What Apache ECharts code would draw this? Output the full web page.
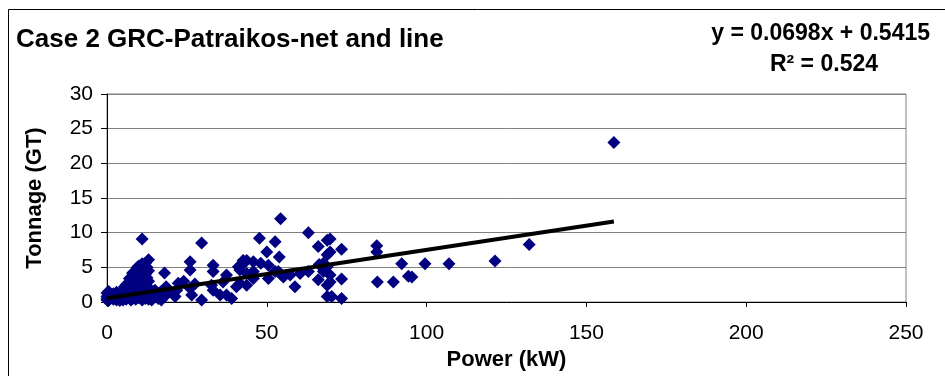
<!DOCTYPE html>
<html>
<head>
<meta charset="utf-8">
<script src="https://cdn.jsdelivr.net/npm/echarts@6/dist/echarts.min.js"></script>
<style>
html,body{margin:0;padding:0;background:#fff;}
#c{width:945px;height:376px;}
</style>
</head>
<body>
<div id="c"></div>
<script>
// Power (kW)
var powerKW = [
  0,0,0,0, 0.5,0.5, 1,1, 2,2,2, 3,3,3, 4,4,4, 5,5,5,5, 5.5,5.5,
  6,6,6,6, 7,7,7,7,7, 7.5,7.5,7.5, 8,8,8,8,8, 8.5,8.5,8.5, 9,9,9,9,9,
  9.5,9.5,9.5, 10,10,10,10,10,10, 10.5,10.5,10.5,10.5, 11,11,11,11,11,11,
  11.5,11.5,11.5,11.5, 12,12,12,12,12, 12.5,12.5,12.5,12.5, 13,13,13,13,13,
  14,14,14, 15,15, 16,16, 17,17, 18,18,18, 19,
  18.5, 16.6, 21.3, 21.8, 22.3, 24, 26, 26, 26, 26.5, 27.5, 29.6, 29.6,
  32.7, 33.2, 33.2, 33.2, 35.4, 36.3, 37.4, 37.4, 39, 40.5, 41.1, 42.6,
  41.6, 41.6, 42.1, 43.7, 43.7, 43.7, 45.8, 45.8, 45.8, 47.7, 48.1, 50, 50.5, 50.5,
  52.6, 52.6, 53.6, 53.9, 54.3, 54.6, 55.2, 57.3, 58.8, 60.4, 63, 63,
  66.1, 66.1, 66.4, 67.7, 67.7, 68.9, 68.9, 68.9, 68.9, 68.9,
  69.8, 69.8, 69.8, 69.8, 70.3, 73.4, 73.4, 73.4,
  84.4, 84.4, 84.6, 89.6, 92.2, 94.3, 95.4, 99.5, 107, 121.4, 132.1, 158.6
];
// Tonnage (GT)
var tonnageGT = [
  0.3,0.8,1.3,0.5, 1.5,0.2, 0.6,1.0, 0.4,1.2,0.8, 0.3,0.9,1.4, 0.5,1.1,0.2, 0.7,1.3,0.3,1.8, 2.2,1.0,
  0.4,1.5,2.5,0.9, 0.6,1.8,2.8,3.4,1.2, 2.2,3.0,0.3, 0.5,1.5,2.5,3.8,4.2, 1.0,2.0,3.3, 0.4,1.3,2.8,3.8,4.5,
  2.2,3.0,5.0, 0.6,1.7,2.5,3.5,4.2,5.2, 1.0,2.0,3.0,4.8, 0.3,1.4,2.6,3.8,5.5,9.1,
  0.8,2.0,3.2,4.5, 0.5,1.5,2.8,4.0,5.6, 1.1,2.3,3.5,5.0, 0.4,1.8,3.0,4.5,6.1,
  0.8,1.5,0.3, 1.7,0.9, 1.2,0.5, 1.5,0.3, 4.2,0.8,1.7, 1.3,
  2.2, 1.3, 0.8, 1.7, 2.7, 3.0, 5.8, 4.6, 2.0, 1.0, 2.6, 8.5, 0.3,
  2.4, 5.3, 4.4, 1.7, 1.0, 2.9, 3.9, 1.0, 0.5, 2.2, 5.1, 6.0,
  4.6, 2.7, 5.3, 6.0, 4.1, 2.4, 5.8, 4.4, 3.4, 9.2, 5.6, 7.2, 5.3, 3.4,
  8.7, 4.4, 4.4, 6.5, 12.0, 3.9, 3.6, 3.9, 2.2, 4.1, 10.0, 4.4,
  8.0, 3.2, 5.4, 4.4, 5.6, 8.9, 6.8, 5.1, 2.4, 0.8,
  9.1, 7.2, 3.9, 2.9, 0.8, 7.6, 3.3, 0.5,
  8.1, 7.2, 2.9, 2.9, 5.5, 3.7, 3.6, 5.5, 5.5, 5.9, 8.3, 23.0
];
// Linear trend line end points (from y = 0.0698x + 0.5415)
var trendX = [0, 158.6];
var trendY = [0.5415, 0.0698 * 158.6 + 0.5415];
var xTicks = [0, 50, 100, 150, 200, 250];
var yTicks = [0, 5, 10, 15, 20, 25, 30];

var titleText = 'Case 2 GRC-Patraikos-net and line';
var eqText = 'y = 0.0698x + 0.5415';
var r2Text = 'R² = 0.524';

var pts = powerKW.map(function (x, i) { return [x, tonnageGT[i]]; });
var trend = trendX.map(function (x, i) { return [x, trendY[i]]; });

var FONT = '"Liberation Sans", Arial, sans-serif';
var chart = echarts.init(document.getElementById('c'), null, {renderer: 'canvas'});
chart.setOption({
  animation: false,
  backgroundColor: '#ffffff',
  title: {
    text: titleText,
    left: 11, top: 22,
    textStyle: {fontFamily: FONT, fontSize: 26, fontWeight: 'bold', color: '#000'}
  },
  graphic: [
    {type: 'rect', silent: true, shape: {x: 8.5, y: 9.5, width: 1000, height: 1000},
     style: {fill: null, stroke: '#000', lineWidth: 1}},
    {type: 'text', right: 15, top: 22,
     style: {text: eqText, font: 'bold 23px ' + FONT, fill: '#000'}},
    {type: 'text', right: 67, top: 53,
     style: {text: r2Text, font: 'bold 23px ' + FONT, fill: '#000'}}
  ],
  grid: {left: 107, right: 39, top: 94, bottom: 74, show: true, borderColor: '#808080', borderWidth: 1, backgroundColor: '#fff'},
  xAxis: {
    type: 'value', min: xTicks[0], max: xTicks[xTicks.length - 1], interval: 50,
    name: 'Power (kW)', nameLocation: 'middle', nameGap: 44,
    nameTextStyle: {fontFamily: FONT, fontSize: 22, fontWeight: 'bold', color: '#000'},
    axisLine: {show: true, lineStyle: {color: '#000', width: 1}},
    axisTick: {show: true, inside: false, length: 5, lineStyle: {color: '#000'}},
    axisLabel: {fontFamily: FONT, fontSize: 21, color: '#000', margin: 21},
    splitLine: {show: false}
  },
  yAxis: {
    type: 'value', min: yTicks[0], max: yTicks[yTicks.length - 1], interval: 5,
    name: 'Tonnage (GT)', nameLocation: 'middle', nameGap: 61,
    nameTextStyle: {fontFamily: FONT, fontSize: 22, fontWeight: 'bold', color: '#000'},
    axisLine: {show: true, lineStyle: {color: '#000', width: 1}},
    axisTick: {show: true, inside: false, length: 6, lineStyle: {color: '#000'}},
    axisLabel: {fontFamily: FONT, fontSize: 21, color: '#000', margin: 14},
    splitLine: {show: true, lineStyle: {color: '#808080', width: 1}}
  },
  series: [
    {type: 'scatter', data: pts, symbol: 'diamond', symbolSize: 13,
     itemStyle: {color: '#000080', opacity: 1}, z: 2},
    {type: 'line', data: trend, symbol: 'none', z: 3,
     lineStyle: {color: '#000', width: 4}}
  ]
});
</script>
</body>
</html>
